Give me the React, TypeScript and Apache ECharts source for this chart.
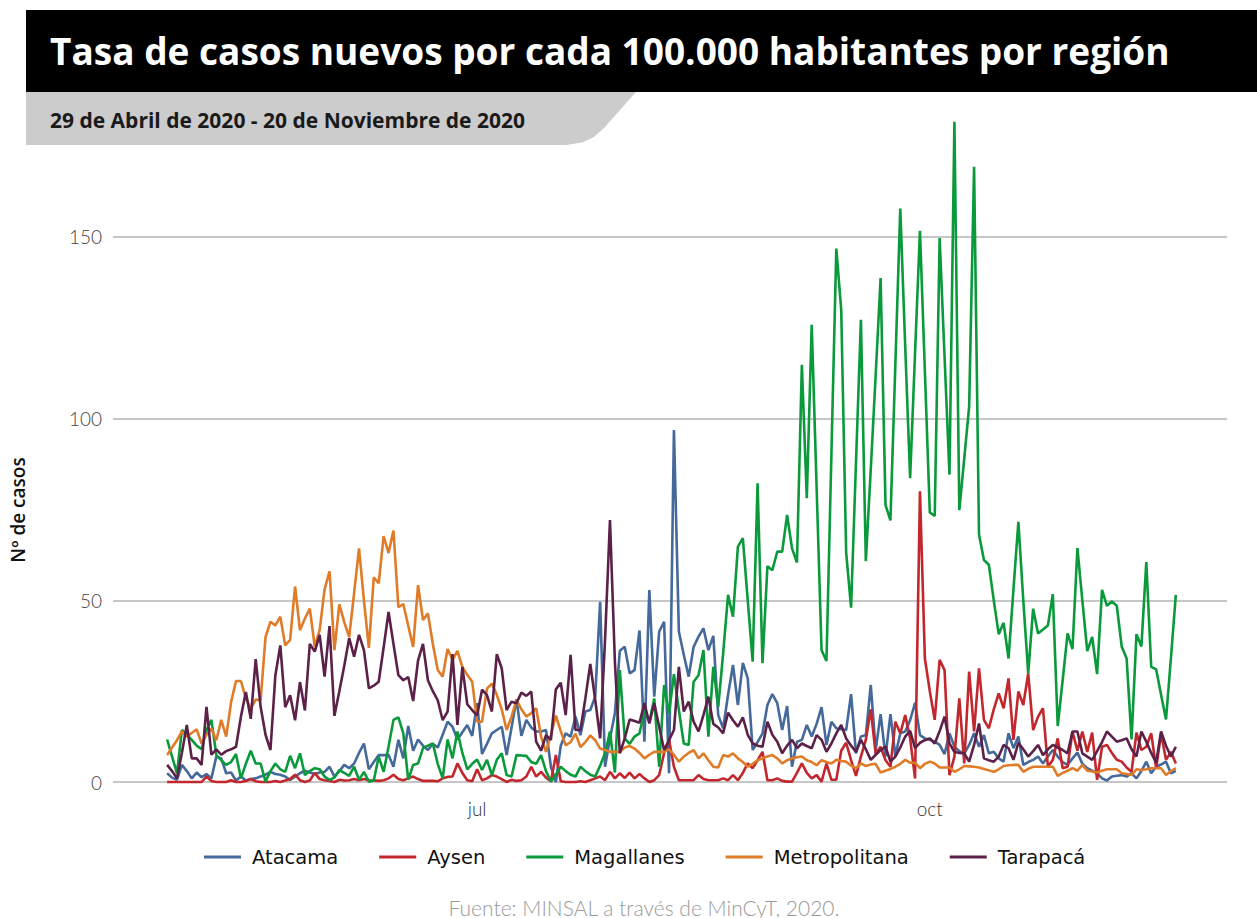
import React, { useEffect, useRef } from "react";
import * as echarts from "echarts";

// ---- Data (29 Apr 2020 .. 20 Nov 2020, daily) ----
const dayCount = 206;
const dates: string[] = (() => {
  const out: string[] = [];
  const base = Date.UTC(2020, 3, 29);
  for (let i = 0; i < dayCount; i++) {
    out.push(new Date(base + i * 86400000).toISOString().slice(0, 10));
  }
  return out;
})();
const xTickDays = [dates.indexOf("2020-07-01"), dates.indexOf("2020-10-01")];
const xTickLabels = ["jul", "oct"];
const yTicks = [0, 50, 100, 150];

const atacama = [
  2.4, 1.2, 0.6, 4.7, 3, 1, 2.6, 1.3, 2.2, 1, 7, 6.5, 2.4, 2.6, 0.4, 1.5, 0.4, 0.8, 1, 1.5,
  2, 2.8, 2.2, 2, 1.5, 0.6, 1.5, 2.4, 3.1, 2.6, 2.2, 2.6, 2.8, 4.2, 1.5, 3, 4.7, 3.8, 5.1, 8,
  10.6, 3.5, 5.5, 7.4, 7.4, 7.4, 4.2, 11.6, 6.5, 15.4, 8.6, 11.7, 10, 8.8, 10.5, 9.5, 13, 16.6, 15.2, 11.7,
  13.7, 15.7, 12.7, 21.7, 7.7, 10.5, 13.4, 14.3, 15.2, 7.4, 15, 22.8, 12.7, 17.1, 15, 13.9, 13.9, 14.3, 4.2, 0,
  10, 13.4, 12.5, 18, 12.9, 19.4, 19.8, 23.5, 49.6, 4.2, 12, 18.9, 36.1, 37.2, 29.9, 30.8, 41.7, 11.1, 52.8, 23.5,
  41.4, 44.1, 2.4, 96.9, 41.4, 35, 29, 37.2, 40, 42.3, 36.3, 40.2, 18.4, 14.8, 24, 32.2, 21.2, 32.8, 28.5, 8.8,
  11, 13.4, 21.2, 24.2, 21.7, 14.3, 20.9, 4.2, 11.1, 11.6, 15.7, 12.5, 16, 20.6, 10.2, 16.6, 14.8, 14.5, 14.3, 24.2,
  7.9, 12.5, 12.9, 26.7, 8.8, 18.7, 7, 18.7, 7.2, 13.4, 13.9, 17, 21.8, 12.9, 12, 11.6, 11.1, 10.2, 7.7, 13.4,
  9.7, 8.5, 7.9, 10.2, 13.4, 9.7, 12.9, 7.9, 8.3, 6.5, 5.6, 13.4, 9.3, 12.5, 4.7, 5.5, 6.1, 7, 5.1, 7,
  8.8, 7, 5.5, 4.7, 6.5, 8.1, 5, 3.8, 3.1, 2.4, 1, 0.4, 1.5, 1.7, 1.9, 1.5, 2.4, 1, 3, 5.6,
  2.4, 4.2, 4.8, 5.6, 2.4, 3.1,
];

const aysen = [
  0, 0, 0, 0, 0, 0, 0, 0, 1.5, 0.3, 0, 0, 0, 0.5, 0, 0, 0.3, 0.8, 0.2, 0,
  0, 0, 0.3, 0, 0.4, 0.8, 2, 0.5, 0, 0.4, 2.5, 0.8, 0.5, 0.3, 0, 0.6, 0.4, 0.5, 0.8, 0.5,
  0.8, 0.5, 0.4, 0.3, 0.5, 1, 2, 0.8, 0.5, 1, 1.5, 0.8, 0.3, 0.3, 0.3, 0.2, 1, 1.4, 1.5, 5.1,
  2.5, 0.5, 0.2, 3.5, 0.5, 1, 1.9, 1.5, 0.8, 0, 0.6, 0.3, 0.5, 1.5, 4.2, 1.5, 2.8, 1.2, 0.2, 7.4,
  0.2, 0, 0, 0, 0.2, 0, 0.5, 1, 1.5, 0.5, 2.8, 1, 2.4, 1.1, 2.6, 1, 2.2, 1, 0, 0.5,
  1.9, 8, 11.6, 4.2, 0.5, 0.5, 0.5, 0.5, 1.9, 0.8, 0.5, 0.5, 0.5, 1, 0.5, 1.9, 0.5, 2.5, 5.1, 3.8,
  6, 8.3, 0.5, 0.5, 1, 0.3, 0.1, 0.1, 2.5, 5.1, 2.5, 1, 1.9, 0.1, 5.1, 0.6, 0.6, 8.6, 10.8, 6,
  1.7, 7, 11.6, 20, 7.7, 9.7, 6, 4.2, 16.6, 13.4, 18.4, 12, 1, 80, 34, 25, 17.1, 33.6, 30.8, 1.9,
  7, 23, 5.1, 30.4, 13.9, 31.3, 17.1, 14.8, 20, 24.4, 20.3, 28.5, 11.6, 24.9, 21.2, 29.9, 14.3, 18, 20.3, 4.2,
  6.1, 12, 3.8, 4.2, 13.9, 8.6, 13.9, 8.3, 13.6, 0.6, 9.7, 10.2, 8, 6.1, 5.6, 4, 2.8, 13.6, 8.8, 9.7,
  13.4, 3.8, 13.4, 6.1, 8.3, 5.1,
];

const magallanes = [
  11.7, 7, 2.4, 14.3, 13, 11.6, 10, 9, 14.3, 17.1, 7.4, 6, 4.7, 5.5, 7.7, 1, 5, 8.6, 5.1, 5.1,
  0.1, 3, 5.1, 3.5, 2.8, 7.2, 3.8, 7.9, 1.9, 3, 3.8, 3.5, 1.5, 0.6, 1.2, 3.3, 2.5, 1.7, 4.2, 0.6,
  2.8, 0.1, 0.4, 7, 2.8, 9.7, 17.1, 17.8, 13.4, 0.6, 4.7, 5.1, 9.3, 10, 10.6, 5, 1, 11.7, 6.5, 13.9,
  8, 3.5, 5, 6.2, 3.3, 6.1, 1.9, 6.1, 7.9, 1.9, 1.5, 7.4, 7.3, 7.2, 5.5, 5, 7.4, 3, 0.1, 2,
  4.2, 3, 2, 1.5, 4.2, 3, 2, 1.5, 4.5, 7.9, 13.9, 2.6, 30.8, 12, 10.5, 12.5, 13.4, 19.6, 16.6, 23,
  4.2, 26.7, 18.9, 29.7, 19.8, 10.6, 10.2, 27.6, 29.4, 36.3, 12.5, 31.7, 20.7, 35.4, 51.5, 45.5, 64.8, 67.1, 50, 33.1,
  82.2, 32.7, 59.4, 58.3, 63.4, 63.4, 73.5, 64.3, 60.4, 114.8, 78.1, 125.8, 81, 36.3, 33.3, 90, 146.8, 129.9, 63.2, 48,
  88, 127.2, 60.8, 86, 112, 138.7, 76.2, 72, 115, 157.8, 120, 83.6, 118, 151.7, 113, 74.2, 73.2, 149.7, 117, 84.6,
  181.7, 74.8, 89, 103.4, 169.3, 68.1, 61.1, 59.8, 50, 40.7, 43.8, 34, 53, 71.6, 50, 29.9, 47.7, 40.9, 42, 43.1,
  51.7, 15.4, 28, 40.9, 36.6, 64.4, 50, 36, 39.9, 29.7, 52.9, 48.5, 49.7, 48.5, 37.3, 34, 11.7, 40.7, 37.3, 60.5,
  31.7, 31, 24, 17.2, 34, 51.5,
];

const metropolitana = [
  7.4, 9.5, 11.5, 13.9, 12.5, 13.5, 14.5, 10.6, 13, 14.7, 11.5, 17.1, 12.5, 22, 27.8, 27.8, 23, 20.2, 22.7, 22.5,
  39.9, 44.1, 43.1, 45.5, 37.6, 39.1, 53.8, 41.8, 45, 47.7, 37.3, 41.8, 53, 58, 36.3, 48.9, 44, 39.9, 52, 64.3,
  50, 36.9, 56.3, 54.7, 67.7, 63, 69.2, 48.1, 49, 43, 37.2, 54.2, 44.6, 46.4, 38, 30.8, 29, 36.6, 33.6, 36.1,
  31.7, 29.5, 27.6, 16.6, 16.6, 25.7, 27.1, 24, 20, 14.3, 18, 22.6, 20, 18, 19, 20.3, 12.5, 8.3, 13, 18.3,
  14, 10.1, 11, 13.3, 9.6, 11, 12.8, 11.5, 9.2, 8.8, 8.3, 8.3, 8.3, 9.5, 9.9, 9.2, 8, 6.5, 7.5, 8.3,
  8.3, 8.3, 9, 7.5, 5.6, 7, 8, 8.8, 6.5, 7.9, 6, 4.2, 4, 7.4, 7, 7.9, 6.5, 5.5, 4.2, 5,
  6, 6.5, 7, 7.4, 6.5, 5.1, 6, 6.5, 6.8, 7, 6, 5.5, 4.6, 6, 5.5, 5.1, 6.1, 5.8, 5.6, 4.5,
  3.8, 5.1, 4.4, 4.8, 5, 2.6, 3.1, 3.6, 4.2, 5, 6.1, 5.3, 5.3, 3.8, 5, 5.6, 5.1, 4, 4, 4,
  2.8, 3.5, 4.4, 4.3, 4.2, 4, 3.6, 3.2, 2.8, 3.5, 4.4, 4.6, 4.7, 4.7, 2.8, 3.6, 4.2, 4.2, 4.2, 4.2,
  4.2, 1.7, 2.5, 3.1, 3.8, 3.1, 4.7, 3.1, 2.9, 2.7, 3.1, 3.5, 3.5, 3.5, 2.4, 2.2, 1.9, 3.5, 3.3, 3.5,
  3.8, 3.8, 3.8, 1.9, 3, 3.8,
];

const tarapaca = [
  4.7, 3, 1, 8, 15.7, 6.5, 6.5, 4.7, 20.7, 7.5, 9, 7.5, 8.5, 9, 9.7, 18, 24.8, 17.4, 33.8, 20.7,
  13, 8.8, 29.4, 37.6, 20.6, 23.9, 17, 27.5, 19.7, 38, 35.9, 40.5, 29, 42.9, 18.2, 25, 32, 39.6, 34.5, 40.5,
  36.3, 25.8, 26.5, 27.6, 37, 46.8, 38, 29.4, 28, 28.9, 22.3, 33.5, 38, 28, 25, 22.5, 17, 19.4, 35.2, 15.7,
  31.7, 21.4, 19.8, 18.3, 25.4, 23.9, 19.4, 35.2, 31.3, 19.8, 22.1, 21.7, 24.6, 23.7, 24.9, 11.1, 8.6, 12.9, 11.6, 25.5,
  27.3, 18.4, 35, 14.3, 14.3, 23, 32.5, 22.6, 12, 39.1, 72.1, 33.1, 7.9, 12, 17.2, 16.8, 16.3, 21.7, 16.1, 21.7,
  15.2, 8.8, 11.5, 14.3, 31.7, 19.4, 22.1, 16.6, 13.9, 18.4, 23.5, 16, 15, 13.4, 19.1, 17, 15.2, 17.8, 13, 10.6,
  10, 9.7, 16.6, 13, 11.1, 7.9, 10, 11.6, 9.3, 10.6, 9.9, 9.3, 12.9, 11.6, 8.3, 10.6, 13.4, 15.7, 12, 10,
  8.3, 11.6, 9, 6.1, 7.5, 8.8, 9.7, 5.6, 7, 9.5, 12.5, 14.1, 9.3, 10.8, 11.5, 12, 10.6, 14, 18, 10.6,
  8.3, 8, 7.9, 5.6, 10.2, 16.1, 6.5, 6, 5.6, 7, 10.2, 9.3, 6.1, 10.8, 9, 7, 8.5, 10.2, 7.4, 9,
  10.2, 9.5, 8.8, 7.9, 13.9, 13.9, 7.9, 7, 6.1, 8.5, 11, 13.9, 12.5, 11.1, 11.5, 12, 9, 7, 13.9, 11.1,
  8, 5.3, 13.9, 10, 7, 9.7,
];

const seriesNames = ["Atacama", "Aysen", "Magallanes", "Metropolitana", "Tarapacá"];
const seriesData = [atacama, aysen, magallanes, metropolitana, tarapaca];
const seriesColors = ["#44699a", "#c1272d", "#0a9a3c", "#e07b27", "#5b2148"];

const FONT = "Lato, 'Open Sans', sans-serif";
const HEAD_FONT = "'Open Sans', Lato, sans-serif";
const LEGEND_FONT = "'DejaVu Sans', Lato, sans-serif";

export default function App() {
  const ref = useRef<HTMLDivElement>(null);

  useEffect(() => {
    document.body.style.margin = "0";
    if (!ref.current) return;
    const chart = echarts.init(ref.current, null, { renderer: "svg" });

    const option: any = {
      animation: false,
      backgroundColor: "#ffffff",
      textStyle: { fontFamily: FONT },
      grid: { left: 113, right: 30, top: 109.8, bottom: 136 },
      xAxis: {
        type: "value",
        min: -11,
        max: 215.4,
        axisLine: { show: false },
        axisTick: { show: false },
        splitLine: { show: false },
        axisLabel: {
          customValues: xTickDays,
          formatter: (v: number) => {
            const k = xTickDays.indexOf(Math.round(v));
            return k >= 0 ? xTickLabels[k] : "";
          },
          color: "#333333",
          fontSize: 19,
          fontWeight: 300,
          fontFamily: FONT,
          margin: 17,
        },
      },
      yAxis: {
        type: "value",
        min: 0,
        max: 185,
        interval: 50,
        axisLine: { show: false },
        axisTick: { show: false },
        axisLabel: {
          showMaxLabel: false,
          formatter: (v: number) => (yTicks.indexOf(v) >= 0 ? String(v) : ""),
          color: "#444444",
          fontSize: 19,
          fontWeight: 300,
          fontFamily: FONT,
          margin: 11,
        },
        splitLine: {
          show: true,
          showMaxLine: false,
          lineStyle: { color: "#b3b3b3", width: 1.6 },
        },
      },
      legend: {
        data: seriesNames,
        left: 199,
        top: 842,
        icon: "rect",
        itemWidth: 37,
        itemHeight: 3,
        itemGap: 41,
        textStyle: {
          color: "#111111",
          fontSize: 19.5,
          fontFamily: LEGEND_FONT,
          padding: [0, 0, 0, 6],
        },
      },
      series: seriesNames.map((name, k) => ({
        name,
        type: "line",
        data: seriesData[k].map((v, i) => [i, v]),
        showSymbol: false,
        symbol: "none",
        clip: false,
        color: seriesColors[k],
        lineStyle: { width: 2.6, color: seriesColors[k] },
      })),
      graphic: [
        {
          type: "rect",
          shape: { x: 26, y: 10, width: 1231, height: 82 },
          style: { fill: "#000000" },
        },
        {
          type: "text",
          x: 50,
          y: 50,
          style: {
            text: "Tasa de casos nuevos por cada 100.000 habitantes por región",
            fill: "#ffffff",
            font: `bold 37px ${HEAD_FONT}`,
            verticalAlign: "middle",
          },
        },
        {
          type: "polygon",
          shape: {
            points: [
              [26, 92],
              [636, 92],
              [604, 128],
              [594, 137],
              [582, 142.5],
              [566, 145],
              [26, 145],
            ],
          },
          style: { fill: "#cccccc" },
        },
        {
          type: "text",
          x: 50,
          y: 120,
          style: {
            text: "29 de Abril de 2020 - 20 de Noviembre de 2020",
            fill: "#1a1a1a",
            font: `bold 21px ${HEAD_FONT}`,
            verticalAlign: "middle",
          },
        },
        {
          type: "text",
          x: 18,
          y: 510,
          rotation: Math.PI / 2,
          style: {
            text: "Nº de casos",
            fill: "#111111",
            font: `600 19px ${HEAD_FONT}`,
            align: "center",
            verticalAlign: "middle",
          },
        },
        {
          type: "text",
          x: 644,
          y: 907,
          style: {
            text: "Fuente: MINSAL a través de MinCyT, 2020.",
            fill: "#9a9a9a",
            font: `300 21px ${FONT}`,
            align: "center",
            verticalAlign: "middle",
          },
        },
      ],
    };

    chart.setOption(option);
    return () => chart.dispose();
  }, []);

  return <div ref={ref} style={{ width: 1257, height: 918 }} />;
}
